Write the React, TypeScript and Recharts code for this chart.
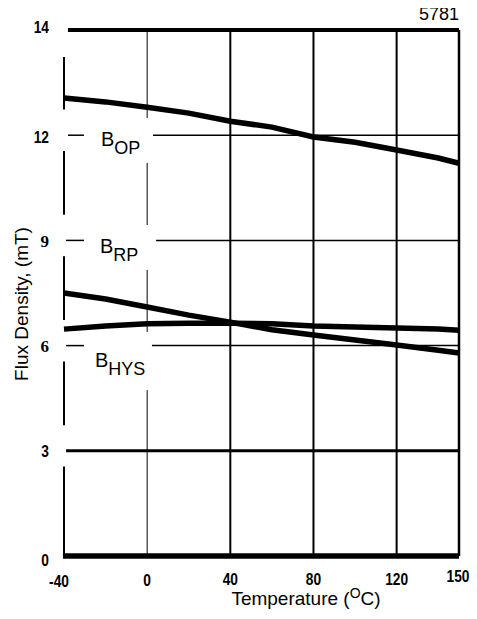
import React from "react";
import { ComposedChart, Line, Scatter, XAxis, YAxis, ReferenceLine } from "recharts";

// ---- data ----
const temps = [-40, -20, 0, 20, 40, 60, 80, 100, 120, 140, 150];
const bopValues = [13.06, 12.95, 12.8, 12.63, 12.4, 12.23, 11.95, 11.8, 11.58, 11.35, 11.2];
const brpValues = [7.5, 7.33, 7.1, 6.87, 6.67, 6.45, 6.3, 6.16, 6.02, 5.87, 5.79];
const bhysValues = [6.47, 6.56, 6.62, 6.64, 6.64, 6.62, 6.56, 6.53, 6.5, 6.47, 6.44];

const xTicks = [-40, 0, 40, 80, 120, 150];
const xTickLabels = ["-40", "0", "40", "80", "120", "150"];
const yTicks = [0, 3, 6, 9, 12, 15];
const yTickLabels = ["0", "3", "6", "9", "12", "14"];

const seriesNames = ["OP", "RP", "HYS"];
const figureNumber = "5781";
const xTitle = "Temperature (";
const xTitleSup = "O";
const xTitleEnd = "C)";
const yTitle = "Flux Density, (mT)";

const rows = temps.map((t, i) => ({ t, bop: bopValues[i], brp: brpValues[i], bhys: bhysValues[i] }));

// label anchors (data coordinates)
const labelAnchorT = [-22.2, -22.7, -25.1];
const labelAnchorV = [11.69, 8.64, 5.39];
const labelRows = seriesNames.map((s, i) => ({ t: labelAnchorT[i], v: labelAnchorV[i], sub: s }));

const W = 469;
const H = 603;
const SANS = "Arial, 'Liberation Sans', Helvetica, sans-serif";
const SERIF = "'Liberation Serif', 'Times New Roman', serif";

const XTick = (props: any) => {
  const { x, y, payload } = props;
  const i = xTicks.indexOf(payload.value);
  const label = xTickLabels[i];
  let dx = 0;
  let dy = 29;
  if (label === "-40") { dx = -5; dy = 31; }
  if (label === "0") dy = 30;
  if (label === "150") { dx = -1; dy = 26; }
  return (
    <text
      transform={`translate(${x + dx},${y + dy}) scale(0.86,1)`}
      x={0}
      y={0}
      textAnchor="middle"
      fontFamily={SANS}
      fontWeight="bold"
      fontSize={16}
      fill="#000"
    >
      {label}
    </text>
  );
};

const YTick = (props: any) => {
  const { x, y, payload } = props;
  const i = yTicks.indexOf(payload.value);
  const label = yTickLabels[i];
  const serif = label === "9" || label === "6";
  let dy = 6;
  if (label === "14") dy = 3;
  if (label === "12") dy = 8;
  if (label === "9") dy = 7;
  if (label === "0") dy = 10;
  return (
    <text
      transform={`translate(${x - 15},${y + dy}) scale(${serif ? 1 : 0.86},1)`}
      x={0}
      y={0}
      textAnchor="end"
      fontFamily={serif ? SERIF : SANS}
      fontWeight="bold"
      fontSize={serif ? 17 : 16}
      fill="#000"
    >
      {label}
    </text>
  );
};

const LabelShape = (props: any) => {
  const { cx, cy, payload } = props;
  return (
    <text x={cx} y={cy} fontFamily={SANS} fontSize={20} fill="#000">
      <tspan>B</tspan>
      <tspan fontSize={18} dy={8}>{payload.sub}</tspan>
    </text>
  );
};

const seg = (x1: number, y1: number, x2: number, y2: number, w: number, key: string) => (
  <ReferenceLine
    key={key}
    segment={[{ x: x1, y: y1 }, { x: x2, y: y2 }]}
    stroke="#000"
    strokeWidth={w}
    ifOverflow="visible"
  />
);

export default function App() {
  return (
    <div style={{ position: "relative", width: W, height: H }}>
      <ComposedChart width={W} height={H} data={rows} margin={{ top: 22, right: 18, left: 0, bottom: 15 }}>
        <XAxis
          dataKey="t"
          type="number"
          domain={[-40, 150]}
          ticks={xTicks}
          axisLine={false}
          tickLine={false}
          tickSize={0}
          tickMargin={0}
          height={40}
          tick={<XTick />}
          interval={0}
        />
        <YAxis
          type="number"
          domain={[0, 15]}
          ticks={yTicks}
          axisLine={false}
          tickLine={false}
          tickSize={0}
          tickMargin={0}
          width={56}
          tick={<YTick />}
          interval={0}
        />
        {/* left axis with gaps */}
        {seg(-40, 0, -40, 2.55, 2, "l1")}
        {seg(-40, 3.73, -40, 5.55, 2, "l2")}
        {seg(-40, 6.73, -40, 8.55, 2, "l3")}
        {seg(-40, 9.73, -40, 11.55, 2, "l4")}
        {seg(-40, 12.73, -40, 14.23, 2, "l5")}
        {/* horizontal lines */}
        {seg(-38.1, 15, 150, 15, 4, "h15")}
        {seg(-38.1, 12, -30.4, 12, 1.5, "h12a")}
        {seg(2.8, 12, 150, 12, 1.5, "h12b")}
        {seg(-39, 9, -30.4, 9, 1.5, "h9a")}
        {seg(4.3, 9, 150, 9, 1.5, "h9b")}
        {seg(-39, 6, -30.4, 6, 1.5, "h6a")}
        {seg(2.3, 6, 150, 6, 1.5, "h6b")}
        {seg(-39, 3, 150, 3, 3, "h3")}
        {seg(-40.5, 0, 150, 0, 5.5, "h0")}
        {/* vertical lines */}
        {seg(0, 15, 0, 12.49, 1, "v0a")}
        {seg(0, 11.21, 0, 9.44, 1, "v0b")}
        {seg(0, 8.16, 0, 6.39, 1, "v0c")}
        {seg(0, 4.73, 0, 0, 1, "v0d")}
        {seg(40, 0, 40, 15, 2, "v40")}
        {seg(80, 0, 80, 15, 2, "v80")}
        {seg(120, 0, 120, 15, 2, "v120")}
        {seg(150, 0, 150, 15, 2.5, "v150")}
        <Line dataKey="bop" stroke="#000" strokeWidth={5.5} dot={false} isAnimationActive={false} type="linear" />
        <Line dataKey="brp" stroke="#000" strokeWidth={5.5} dot={false} isAnimationActive={false} type="linear" />
        <Line dataKey="bhys" stroke="#000" strokeWidth={5.5} dot={false} isAnimationActive={false} type="linear" />
        <Scatter data={labelRows} dataKey="v" shape={<LabelShape />} isAnimationActive={false} />
      </ComposedChart>
      <svg
        width={W}
        height={H}
        style={{ position: "absolute", left: 0, top: 0, pointerEvents: "none", overflow: "visible" }}
      >
        <text x={451} y={12} textAnchor="end" fontFamily={SANS} fontSize={18} fill="#000">
          {figureNumber}
        </text>
        <text x={298} y={597} textAnchor="middle" fontFamily={SANS} fontSize={19} fill="#000">
          <tspan>{xTitle}</tspan>
          <tspan fontSize={14} dy={-7}>{xTitleSup}</tspan>
          <tspan dy={7}>{xTitleEnd}</tspan>
        </text>
        <text
          transform="translate(20,296) rotate(-90)"
          x={0}
          y={0}
          textAnchor="middle"
          fontFamily={SANS}
          fontSize={19}
          fill="#000"
        >
          {yTitle}
        </text>
      </svg>
    </div>
  );
}
